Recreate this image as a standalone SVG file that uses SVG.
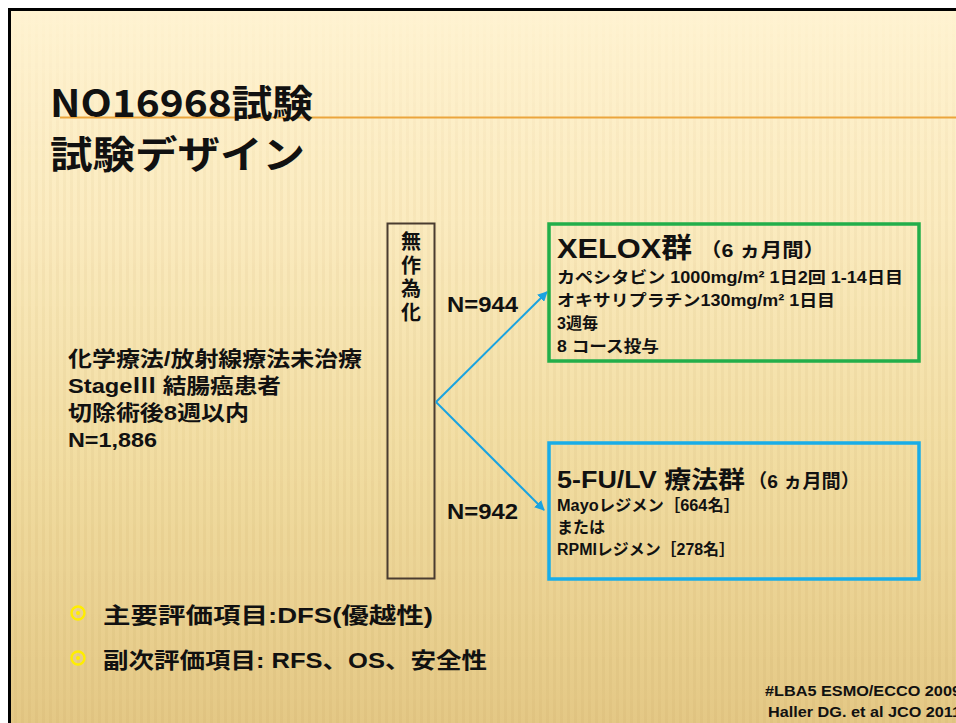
<svg xmlns="http://www.w3.org/2000/svg" width="956" height="723" viewBox="0 0 956 723">
<defs>
<linearGradient id="bg" x1="0" y1="0" x2="0" y2="1">
<stop offset="0" stop-color="#fff3d2"/>
<stop offset="0.3" stop-color="#fbebbf"/>
<stop offset="0.65" stop-color="#f1dca0"/>
<stop offset="1" stop-color="#e4c885"/>
</linearGradient>
<linearGradient id="fade" x1="0" y1="0" x2="0" y2="1">
<stop offset="0" stop-color="#fff" stop-opacity="0"/>
<stop offset="0.25" stop-color="#fff" stop-opacity="0.6"/>
<stop offset="1" stop-color="#fff" stop-opacity="1"/>
</linearGradient>
<mask id="fm"><rect x="0" y="0" width="956" height="723" fill="url(#fade)"/></mask>
<pattern id="stripes" width="7" height="723" patternUnits="userSpaceOnUse">
<rect x="0" y="0" width="3" height="723" fill="#c8a860" opacity="0.12"/>
</pattern>
<marker id="ah" viewBox="0 0 10 10" refX="9" refY="5" markerWidth="5" markerHeight="5" orient="auto" markerUnits="strokeWidth">
<path d="M0,0 L10,5 L0,10 z" fill="#1aa3e0"/>
</marker>
<style>
.t{font-family:"Liberation Sans","Noto Sans CJK JP",sans-serif;font-weight:bold;fill:#111}
.title{font-family:"Noto Sans CJK JP","Liberation Sans",sans-serif;font-weight:bold;fill:#111;font-size:38px}
.conn{stroke:#1aa3e0;stroke-width:2;fill:none}
.bullet{fill:none;stroke:#ffee00;stroke-width:2.4}
</style>
</defs>
<rect width="956" height="723" fill="#ffffff"/>
<rect x="8" y="8" width="948" height="715" fill="url(#bg)"/>
<rect x="8" y="8" width="948" height="715" fill="url(#stripes)" mask="url(#fm)"/>
<path d="M9.5,723 V9.5 H956" fill="none" stroke="#000" stroke-width="3"/>

<g id="title">
<line x1="60" y1="117.5" x2="956" y2="117.5" stroke="#eba53c" stroke-width="2"/>
<text class="title" x="50" y="117" textLength="263" lengthAdjust="spacingAndGlyphs">NO16968試験</text>
<text class="title" x="50" y="168" textLength="255" lengthAdjust="spacingAndGlyphs">試験デザイン</text>
</g>

<g id="patients">
<text class="t" x="68" y="366" font-size="21" textLength="294" lengthAdjust="spacingAndGlyphs">化学療法/放射線療法未治療</text>
<text class="t" x="68" y="393" font-size="21" textLength="213" lengthAdjust="spacingAndGlyphs">StageⅢ 結腸癌患者</text>
<text class="t" x="68" y="420" font-size="21" textLength="181" lengthAdjust="spacingAndGlyphs">切除術後8週以内</text>
<text class="t" x="68" y="447" font-size="21" textLength="89" lengthAdjust="spacingAndGlyphs">N=1,886</text>
</g>

<g id="randomization">
<rect x="387.5" y="223.5" width="47" height="355" fill="none" stroke="#4a3c30" stroke-width="2"/>
<text class="t" x="411" y="249" font-size="20" text-anchor="middle">無</text>
<text class="t" x="411" y="273" font-size="20" text-anchor="middle">作</text>
<text class="t" x="411" y="296" font-size="20" text-anchor="middle">為</text>
<text class="t" x="411" y="320" font-size="20" text-anchor="middle">化</text>
</g>

<g id="connectors">
<line class="conn" x1="436" y1="402" x2="547" y2="292" marker-end="url(#ah)"/>
<line class="conn" x1="436" y1="402" x2="544" y2="510" marker-end="url(#ah)"/>
<text class="t" x="447" y="312" font-size="22" textLength="71" lengthAdjust="spacingAndGlyphs">N=944</text>
<text class="t" x="447" y="519" font-size="22" textLength="71" lengthAdjust="spacingAndGlyphs">N=942</text>
</g>

<g id="xelox">
<rect x="549" y="224" width="370" height="137" fill="none" stroke="#22ae4a" stroke-width="3.5"/>
<text class="t" x="557" y="258" font-size="28" textLength="135" lengthAdjust="spacingAndGlyphs">XELOX群</text>
<text class="t" x="700" y="257" font-size="19" textLength="125" lengthAdjust="spacingAndGlyphs">（6 ヵ月間）</text>
<text class="t" x="557" y="283" font-size="16" textLength="346" lengthAdjust="spacingAndGlyphs">カペシタビン 1000mg/m² 1日2回  1-14日目</text>
<text class="t" x="557" y="306" font-size="16" textLength="278" lengthAdjust="spacingAndGlyphs">オキサリプラチン130mg/m²  1日目</text>
<text class="t" x="557" y="329" font-size="16">3週毎</text>
<text class="t" x="557" y="352" font-size="16" textLength="102" lengthAdjust="spacingAndGlyphs">8 コース投与</text>
</g>

<g id="fulv">
<rect x="549" y="443" width="370" height="136" fill="none" stroke="#19ade8" stroke-width="3.5"/>
<text class="t" x="557" y="488" font-size="24" textLength="188" lengthAdjust="spacingAndGlyphs">5-FU/LV 療法群</text>
<text class="t" x="748" y="488" font-size="19" textLength="112" lengthAdjust="spacingAndGlyphs">（6 ヵ月間）</text>
<text class="t" x="557" y="511" font-size="16" textLength="183" lengthAdjust="spacingAndGlyphs">Mayoレジメン［664名］</text>
<text class="t" x="557" y="533" font-size="16">または</text>
<text class="t" x="557" y="555" font-size="16" textLength="178" lengthAdjust="spacingAndGlyphs">RPMIレジメン［278名］</text>
</g>

<g id="endpoints">
<circle class="bullet" cx="78" cy="613" r="6.5"/>
<circle cx="78" cy="613" r="2" fill="#ffee00"/>
<circle class="bullet" cx="78" cy="658" r="6.5"/>
<circle cx="78" cy="658" r="2" fill="#ffee00"/>
<text class="t" x="103" y="623" font-size="22" textLength="330" lengthAdjust="spacingAndGlyphs">主要評価項目:DFS(優越性)</text>
<text class="t" x="103" y="668" font-size="22" textLength="384" lengthAdjust="spacingAndGlyphs">副次評価項目: RFS、OS、安全性</text>
</g>

<g id="reference">
<text class="t" x="765" y="696" font-size="15" textLength="196" lengthAdjust="spacingAndGlyphs">#LBA5 ESMO/ECCO 2009</text>
<text class="t" x="768" y="717" font-size="15" textLength="193" lengthAdjust="spacingAndGlyphs">Haller DG. et al JCO 2011</text>
</g>
</svg>
